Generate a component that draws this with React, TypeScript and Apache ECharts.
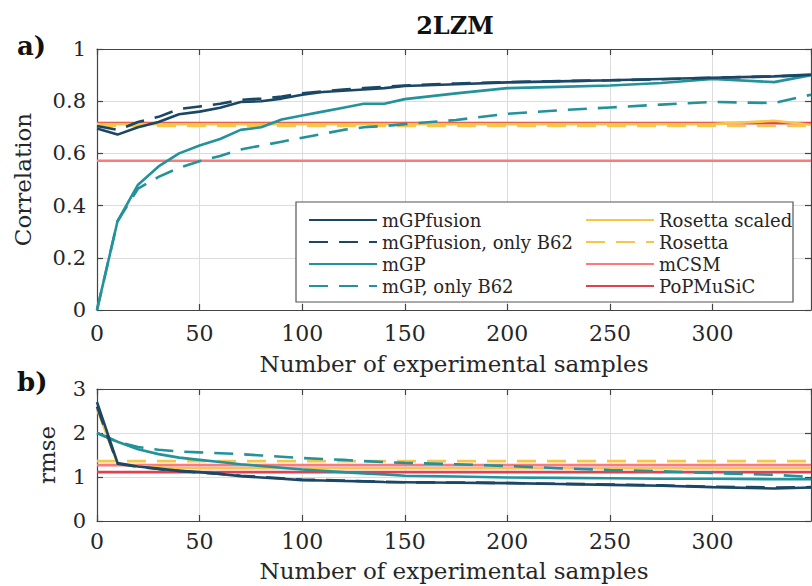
import React, { useEffect, useRef } from "react";
import * as echarts from "echarts";

const xs = [0, 10, 20, 30, 40, 50, 60, 70, 80, 90, 100, 110, 120, 130, 140, 150, 175, 200, 225, 250, 275, 300, 330, 348];
const xEnds = [0, 348];

// Panel a) Correlation
const corrFusion = [0.695, 0.672, 0.70, 0.72, 0.75, 0.76, 0.775, 0.797, 0.80, 0.81, 0.825, 0.835, 0.84, 0.845, 0.85, 0.858, 0.865, 0.872, 0.876, 0.88, 0.885, 0.89, 0.895, 0.902];
const corrFusionB62 = [0.705, 0.69, 0.72, 0.74, 0.77, 0.78, 0.79, 0.805, 0.81, 0.818, 0.83, 0.838, 0.845, 0.85, 0.855, 0.86, 0.868, 0.873, 0.877, 0.88, 0.884, 0.89, 0.895, 0.90];
const corrGP = [0, 0.34, 0.48, 0.55, 0.60, 0.63, 0.655, 0.69, 0.70, 0.73, 0.745, 0.76, 0.775, 0.79, 0.79, 0.808, 0.83, 0.85, 0.855, 0.86, 0.87, 0.885, 0.873, 0.90];
const corrGPB62 = [0, 0.34, 0.465, 0.51, 0.545, 0.57, 0.59, 0.615, 0.63, 0.645, 0.66, 0.675, 0.69, 0.70, 0.705, 0.712, 0.728, 0.752, 0.765, 0.776, 0.787, 0.797, 0.793, 0.825];
const corrRosScaled = [0.712, 0.712, 0.712, 0.712, 0.712, 0.712, 0.712, 0.712, 0.712, 0.712, 0.712, 0.712, 0.712, 0.712, 0.712, 0.712, 0.712, 0.712, 0.712, 0.712, 0.712, 0.712, 0.725, 0.71];
const corrRosetta = [0.705, 0.705];
const corrMCSM = [0.572, 0.572];
const corrPoP = [0.716, 0.716];

// Panel b) rmse
const rmseFusion = [2.7, 1.32, 1.24, 1.19, 1.14, 1.11, 1.07, 1.02, 0.99, 0.96, 0.93, 0.92, 0.91, 0.90, 0.885, 0.88, 0.87, 0.86, 0.84, 0.82, 0.80, 0.77, 0.74, 0.76];
const rmseFusionB62 = [2.6, 1.3, 1.23, 1.18, 1.14, 1.1, 1.07, 1.03, 1.0, 0.97, 0.94, 0.93, 0.92, 0.905, 0.89, 0.88, 0.875, 0.865, 0.845, 0.83, 0.81, 0.78, 0.76, 0.77];
const rmseGP = [2.0, 1.8, 1.63, 1.52, 1.44, 1.39, 1.34, 1.29, 1.25, 1.21, 1.17, 1.14, 1.11, 1.08, 1.06, 1.03, 1.01, 0.99, 0.98, 0.97, 0.96, 0.96, 0.95, 0.95];
const rmseGPB62 = [2.0, 1.8, 1.68, 1.62, 1.58, 1.56, 1.54, 1.52, 1.49, 1.46, 1.43, 1.41, 1.39, 1.36, 1.34, 1.32, 1.29, 1.25, 1.2, 1.16, 1.13, 1.09, 1.05, 1.0];
const rmseRosScaled = [2.55, 1.3, 1.25, 1.22, 1.2, 1.2, 1.2, 1.2, 1.2, 1.2, 1.2, 1.2, 1.2, 1.2, 1.2, 1.2, 1.2, 1.2, 1.2, 1.2, 1.2, 1.2, 1.2, 1.2];
const rmseRosetta = [1.36, 1.36];
const rmseMCSM = [1.27, 1.27];
const rmsePoP = [1.11, 1.11];

const names = ["mGPfusion", "mGPfusion, only B62", "mGP", "mGP, only B62", "Rosetta scaled", "Rosetta", "mCSM", "PoPMuSiC"];
const xTickLabels = ["0", "50", "100", "150", "200", "250", "300"];

const NAVY = "#1b4766";
const TEAL = "#23929a";
const YELLOW = "#f7c648";
const LRED = "#fb7a7c";
const RED = "#e0414d";

const FONT = "DejaVu Serif";
const TXT = "#262626";
const AXC = "#444444";

const pairs = (x: number[], y: number[]) => y.map((v, i) => [x[i], v]);

export default function App() {
  const ref = useRef<HTMLDivElement>(null);
  useEffect(() => {
    const chart = echarts.init(ref.current!, undefined, { renderer: "svg" });

    const styles = [
      { color: NAVY, type: "solid" },
      { color: NAVY, type: "dashed" },
      { color: TEAL, type: "solid" },
      { color: TEAL, type: "dashed" },
      { color: YELLOW, type: "solid" },
      { color: YELLOW, type: "dashed" },
      { color: LRED, type: "solid" },
      { color: RED, type: "solid" },
    ];
    const topData = [
      pairs(xs, corrFusion),
      pairs(xs, corrFusionB62),
      pairs(xs, corrGP),
      pairs(xs, corrGPB62),
      pairs(xs, corrRosScaled),
      pairs(xEnds, corrRosetta),
      pairs(xEnds, corrMCSM),
      pairs(xEnds, corrPoP),
    ];
    const botData = [
      pairs(xs, rmseFusion),
      pairs(xs, rmseFusionB62),
      pairs(xs, rmseGP),
      pairs(xs, rmseGPB62),
      pairs(xs, rmseRosScaled),
      pairs(xEnds, rmseRosetta),
      pairs(xEnds, rmseMCSM),
      pairs(xEnds, rmsePoP),
    ];
    const order = [6, 7, 4, 5, 3, 2, 1, 0];
    const series: any[] = [];
    [topData, botData].forEach((dataSet, g) => {
      order.forEach((i) => {
        series.push({
          type: "line",
          name: names[i],
          xAxisIndex: g * 2,
          yAxisIndex: g * 2,
          data: dataSet[i],
          showSymbol: false,
          symbol: "none",
          color: styles[i].color,
          lineStyle: {
            color: styles[i].color,
            width: 2.6,
            type: styles[i].type === "dashed" ? [19, 11] : "solid",
          },
          z: 2,
        });
      });
    });

    const xLabelFmt = (v: number) => (xTickLabels.includes(String(v)) ? String(v) : "");
    const mkX = (gridIndex: number, pos: "top" | "bottom", labels: boolean, name: string, nameGap: number, margin: number) => ({
      type: "value",
      gridIndex,
      position: pos,
      min: 0,
      max: 348,
      interval: 50,
      name: labels ? name : "",
      nameLocation: "middle",
      nameGap,
      nameTextStyle: { fontFamily: FONT, fontSize: 23, color: TXT },
      axisLine: { show: true, onZero: false, lineStyle: { color: AXC, width: 1.2 } },
      axisTick: { show: true, inside: true, length: 6, lineStyle: { color: AXC, width: 1.2 } },
      axisLabel: {
        show: labels,
        margin,
        fontFamily: FONT,
        fontSize: 22,
        color: TXT,
        formatter: xLabelFmt,
        showMaxLabel: false,
      },
      splitLine: { show: labels, lineStyle: { color: "#dcdcdc", width: 1 } },
    });
    const mkY = (gridIndex: number, pos: "left" | "right", labels: boolean, min: number, max: number, interval: number, name: string, nameGap: number) => ({
      type: "value",
      gridIndex,
      position: pos,
      min,
      max,
      interval,
      name: labels ? name : "",
      nameLocation: "middle",
      nameGap,
      nameMoveOverlap: false,
      nameTextStyle: { fontFamily: FONT, fontSize: 23, color: TXT },
      axisLine: { show: true, onZero: false, lineStyle: { color: AXC, width: 1.2 } },
      axisTick: { show: true, inside: true, length: 6, lineStyle: { color: AXC, width: 1.2 } },
      axisLabel: { show: labels, margin: 11, fontFamily: FONT, fontSize: 21, color: TXT },
      splitLine: { show: labels, lineStyle: { color: "#dcdcdc", width: 1 } },
    });

    const legendCommon = {
      orient: "vertical",
      itemWidth: 68,
      itemHeight: 14,
      itemGap: 4,
      itemStyle: { opacity: 0 },
      textStyle: { fontFamily: FONT, fontSize: 18, color: TXT },
      z: 5,
    };

    chart.setOption({
      animation: false,
      backgroundColor: "#ffffff",
      grid: [
        { left: 97, top: 49, width: 714, height: 261 },
        { left: 97, top: 389, width: 714, height: 132 },
      ],
      xAxis: [
        mkX(0, "bottom", true, "Number of experimental samples", 42, 12),
        mkX(0, "top", false, "", 0, 12),
        mkX(1, "bottom", true, "Number of experimental samples", 38, 9),
        mkX(1, "top", false, "", 0, 9),
      ],
      yAxis: [
        mkY(0, "left", true, 0, 1, 0.2, "Correlation", 63),
        mkY(0, "right", false, 0, 1, 0.2, "", 0),
        mkY(1, "left", true, 0, 3, 1, "rmse", 39),
        mkY(1, "right", false, 0, 3, 1, "", 0),
      ],
      legend: [
        { ...legendCommon, left: 303, top: 206, data: names.slice(0, 4) },
        { ...legendCommon, left: 580, top: 206, data: names.slice(4) },
      ],
      graphic: [
        {
          type: "rect",
          z: 4,
          shape: { x: 296, y: 202, width: 497, height: 100 },
          style: { fill: "#ffffff", stroke: "#555555", lineWidth: 1.2 },
        },
        {
          type: "text",
          x: 455,
          y: 25,
          style: { text: "2LZM", font: `bold 24px '${FONT}'`, fill: "#111", textAlign: "center", textVerticalAlign: "middle" },
        },
        {
          type: "text",
          x: 17,
          y: 46,
          style: { text: "a)", font: `bold 26px '${FONT}'`, fill: "#111", textAlign: "left", textVerticalAlign: "middle" },
        },
        {
          type: "text",
          x: 17,
          y: 382,
          style: { text: "b)", font: `bold 26px '${FONT}'`, fill: "#111", textAlign: "left", textVerticalAlign: "middle" },
        },
      ],
      series,
    });
    return () => chart.dispose();
  }, []);
  return <div ref={ref} style={{ position: "fixed", left: 0, top: 0, width: 812, height: 586 }} />;
}
